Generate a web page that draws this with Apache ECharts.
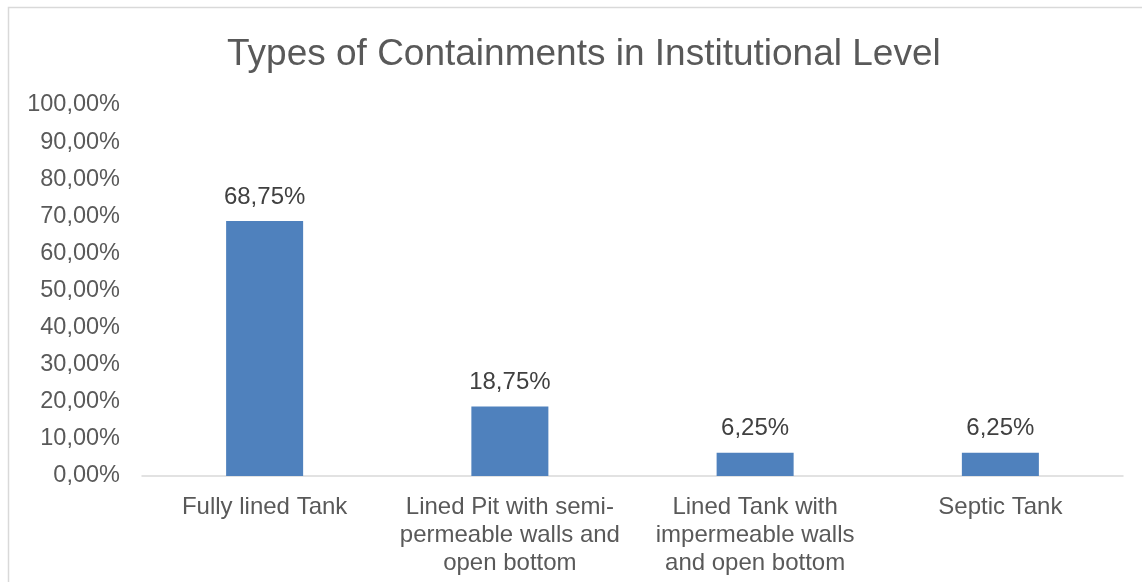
<!DOCTYPE html>
<html><head><meta charset="utf-8">
<script src="https://cdn.jsdelivr.net/npm/echarts@6/dist/echarts.min.js"></script>
<style>html,body{margin:0;padding:0;background:#fff}#c{width:1142px;height:582px}</style>
</head><body><div id="c"></div>
<script>
const titleText = "Types of Containments in Institutional Level";
const categories = ["Fully lined Tank", "Lined Pit with semi-\npermeable walls and\nopen bottom", "Lined Tank with\nimpermeable walls\nand open bottom", "Septic Tank"];
const values = [68.75, 18.75, 6.25, 6.25];
const yMin = 0, yMax = 100, yStep = 10;
const fmt = v => v.toFixed(2).replace('.', ',') + '%';

const chart = echarts.init(document.getElementById('c'), null, {renderer: 'canvas'});
chart.setOption({
  animation: false,
  backgroundColor: '#fff',
  graphic: [{type: 'rect', shape: {x: 8.5, y: 7.5, width: 1400, height: 800}, style: {fill: 'none', stroke: '#d9d9d9', lineWidth: 1.5}, silent: true}],
  title: {text: titleText, left: 222, top: 31, textStyle: {fontFamily: 'Liberation Sans', fontSize: 37, fontWeight: 'normal', color: '#595959'}},
  grid: {left: 142, right: 19, top: 105, bottom: 106, containLabel: false},
  xAxis: {type: 'category', data: categories,
    axisLine: {lineStyle: {color: '#d9d9d9', width: 1.5}}, axisTick: {show: false},
    axisLabel: {fontFamily: 'Liberation Sans', fontSize: 24, color: '#595959', lineHeight: 28, margin: 17, interval: 0}},
  yAxis: {type: 'value', min: yMin, max: yMax, interval: yStep,
    axisLine: {show: false}, axisTick: {show: false}, splitLine: {show: false},
    axisLabel: {fontFamily: 'Liberation Sans', fontSize: 23.5, color: '#595959', margin: 22, formatter: v => fmt(v)}},
  series: [{type: 'bar', data: values, barWidth: '31.4%', itemStyle: {color: '#4f81bd'},
    label: {show: true, position: 'top', distance: 12, fontFamily: 'Liberation Sans', fontSize: 24, color: '#404040', formatter: p => fmt(p.value)}}]
});
</script></body></html>
